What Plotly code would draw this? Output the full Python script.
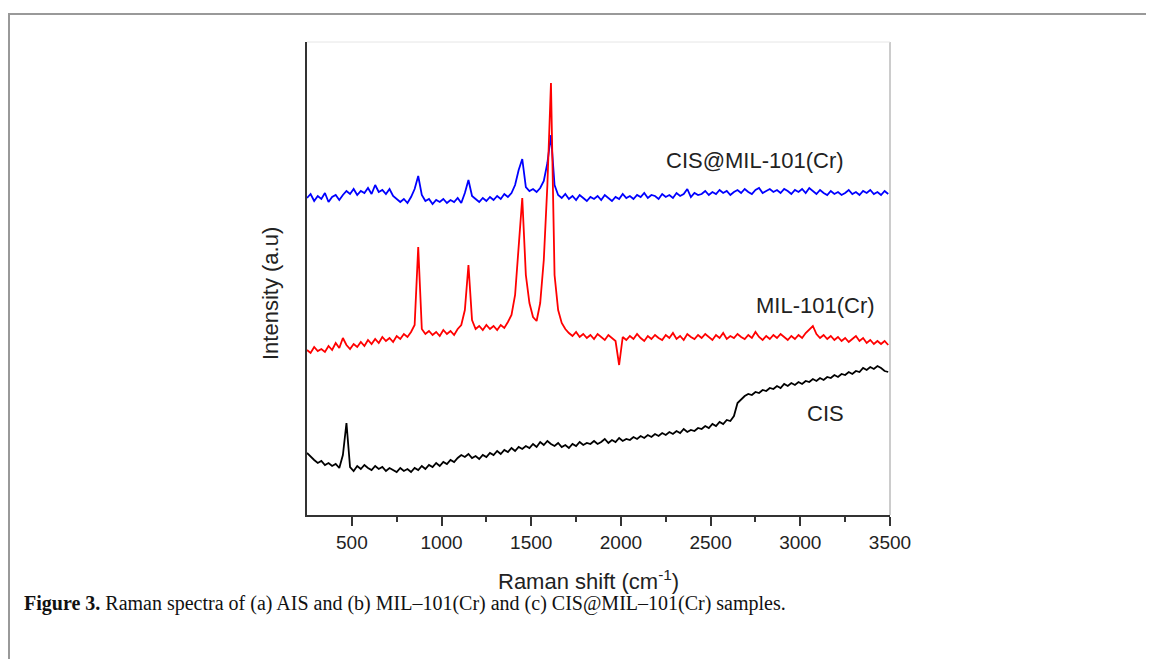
import plotly.graph_objects as go

# Raman shift sampling grid (cm^-1)
raman_shift = list(range(250, 3491, 20))

# Intensities (arbitrary units, offset stacked as in the figure)
cis_mil = [
    317, 321, 314, 319, 316, 322, 313, 318, 320, 315,
    320, 324, 321, 326, 320, 324, 322, 327, 321, 330,
    323, 325, 321, 326, 319, 316, 313, 316, 312, 318,
    326, 339, 320, 314, 316, 311, 315, 313, 316, 312,
    315, 313, 317, 312, 322, 335, 319, 316, 313, 317,
    314, 318, 315, 319, 316, 321, 318, 322, 330, 345,
    356, 328, 324, 326, 323, 327, 334, 352, 380, 330,
    320, 317, 321, 316, 319, 315, 320, 317, 314, 318,
    316, 319, 315, 320, 317, 314, 318, 316, 321, 317,
    319, 316, 320, 318, 322, 317, 320, 319, 316, 321,
    318, 320, 317, 322, 319, 321, 326, 318, 322, 320,
    321, 324, 320, 323, 321, 325, 322, 324, 320, 323,
    325, 322, 326, 323, 321, 325, 327, 322, 324, 326,
    323, 325, 322, 326, 324, 321, 325, 323, 326, 322,
    327, 324, 321, 325, 322, 320, 324, 321, 323, 320,
    322, 325, 321, 323, 320, 324, 322, 325, 321, 323,
    320, 324, 321,
]

mil = [
    165, 162, 168, 164, 166, 163, 169, 165, 172, 167,
    177, 170, 166, 171, 168, 173, 169, 175, 171, 176,
    172, 178, 174, 177, 173, 179, 176, 181, 178, 183,
    190, 268, 186, 181, 184, 180, 183, 179, 185, 181,
    184, 180, 186, 190, 205, 250, 195, 186, 189, 185,
    190, 186, 189, 185, 190, 187, 193, 200, 220, 265,
    317, 240, 212, 198, 194, 212, 255, 330, 432, 240,
    205, 192, 186, 182, 179, 183, 178, 181, 177, 180,
    176, 181, 178, 175, 180, 177, 174, 150, 178, 175,
    179, 176, 181, 177, 174, 179, 176, 180, 177, 175,
    180, 177, 182, 176, 179, 175, 181, 178, 176, 180,
    177, 181, 178, 175, 180, 177, 182, 176, 179, 177,
    181, 178, 176, 180, 177, 183, 178, 175, 179, 176,
    180, 177, 181, 178, 175, 179, 176, 180, 177, 182,
    186, 189, 181, 177, 180, 176, 179, 175, 178, 174,
    177, 173, 176, 179, 174, 177, 172, 175, 171, 174,
    171, 174, 170,
]

cis = [
    62, 58, 55, 52, 54, 50, 52, 49, 51, 47,
    60, 92, 48, 44, 49, 46, 50, 47, 45, 49,
    46, 48, 44, 47, 45, 43, 47, 44, 46, 43,
    47, 45, 49, 46, 50, 48, 52, 49, 53, 51,
    55, 53, 57, 60, 58, 61, 57, 59, 56, 60,
    58, 62, 60, 64, 61, 65, 63, 67, 64, 68,
    66, 69, 67, 71, 68, 73, 70, 74, 71, 69,
    72, 68, 70, 67, 71, 69, 73, 70, 72, 71,
    74, 71, 73, 76, 72, 75, 73, 77, 74, 76,
    75, 78, 76, 79, 77, 80, 78, 81, 79, 82,
    80, 83, 81, 84, 82, 86, 83, 85, 84, 87,
    86, 89, 87, 91, 89, 93, 91, 95, 94, 99,
    112, 116, 119, 121, 120, 123, 122, 125, 124, 127,
    126, 129, 127, 131, 129, 132, 130, 133, 131, 134,
    133, 136, 134, 137, 135, 138, 137, 140, 138, 141,
    140, 143, 141, 144, 143, 147, 145, 148, 146, 149,
    147, 144, 143,
]

series_names = ["CIS@MIL-101(Cr)", "MIL-101(Cr)", "CIS"]
series_colors = ["#0000ff", "#ff0000", "#000000"]
label_x = [2747, 3087, 3138]
label_y = [355, 210, 102]

x_ticks = [500, 1000, 1500, 2000, 2500, 3000, 3500]
x_minor = [750, 1250, 1750, 2250, 2750, 3250]

W, H = 1146, 651
L, R, T, B = 299, 264, 34, 144
PW, PH = W - L - R, H - T - B


def px(fx):
    return (fx - L) / PW


def py(fy):
    return (H - B - fy) / PH


fig = go.Figure()
for name, vals, col in zip(series_names, [cis_mil, mil, cis], series_colors):
    fig.add_trace(go.Scatter(x=raman_shift, y=vals, mode="lines", name=name,
                             line=dict(color=col, width=1.8)))

for name, lx, ly in zip(series_names, label_x, label_y):
    fig.add_annotation(x=lx, y=ly, text=name, showarrow=False,
                       font=dict(family="Liberation Sans, Arial", size=22, color="#222222"))

fig.update_layout(
    width=W, height=H,
    margin=dict(l=L, r=R, t=T, b=B),
    paper_bgcolor="white", plot_bgcolor="white",
    showlegend=False,
    font=dict(family="Liberation Sans, Arial", color="#222222"),
)
fig.update_xaxes(
    range=[250, 3500], tickvals=x_ticks, ticks="outside", ticklen=9, tickwidth=1.5,
    tickcolor="#333333", showline=True, linecolor="#333333", linewidth=1.5,
    showgrid=False, zeroline=False, tickfont=dict(size=19),
    minor=dict(tickvals=x_minor, ticks="outside",
               ticklen=5, tickwidth=1.5, tickcolor="#333333"),
)
fig.update_yaxes(
    range=[0, 473], showticklabels=False, ticks="", showline=True,
    linecolor="#333333", linewidth=1.8, showgrid=False, zeroline=False,
)

# axis titles
fig.add_annotation(xref="paper", yref="paper", x=px(580), y=py(572),
                   text="Raman shift (cm<sup>-1</sup>)", showarrow=False,
                   xanchor="center", yanchor="middle",
                   font=dict(family="Liberation Sans, Arial", size=22, color="#222222"))
fig.add_annotation(xref="paper", yref="paper", x=px(262), y=py(286),
                   text="Intensity (a.u)", showarrow=False, textangle=-90,
                   xanchor="center", yanchor="middle",
                   font=dict(family="Liberation Sans, Arial", size=22, color="#222222"))

# light frame on top/right of plot area
fig.add_shape(type="line", xref="paper", yref="paper", x0=1, x1=1, y0=0, y1=1,
              line=dict(color="#999999", width=1))
fig.add_shape(type="line", xref="paper", yref="paper", x0=0, x1=1, y0=1, y1=1,
              line=dict(color="#e6e6e6", width=1))

# outer figure frame (page style)
fig.add_shape(type="line", xref="paper", yref="paper", x0=px(0), x1=px(W),
              y0=py(6), y1=py(6), line=dict(color="#999999", width=2))
fig.add_shape(type="line", xref="paper", yref="paper", x0=px(1), x1=px(1),
              y0=py(6), y1=py(H), line=dict(color="#999999", width=2))

# caption
fig.add_annotation(xref="paper", yref="paper", x=px(14), y=py(595),
                   xanchor="left", yanchor="middle", showarrow=False,
                   text="<b>Figure 3.</b> Raman spectra of (a) AIS and (b) MIL–101(Cr) and (c) CIS@MIL–101(Cr) samples.",
                   font=dict(family="Liberation Serif, Times New Roman", size=20, color="#111111"))

fig.write_html("out.html")
